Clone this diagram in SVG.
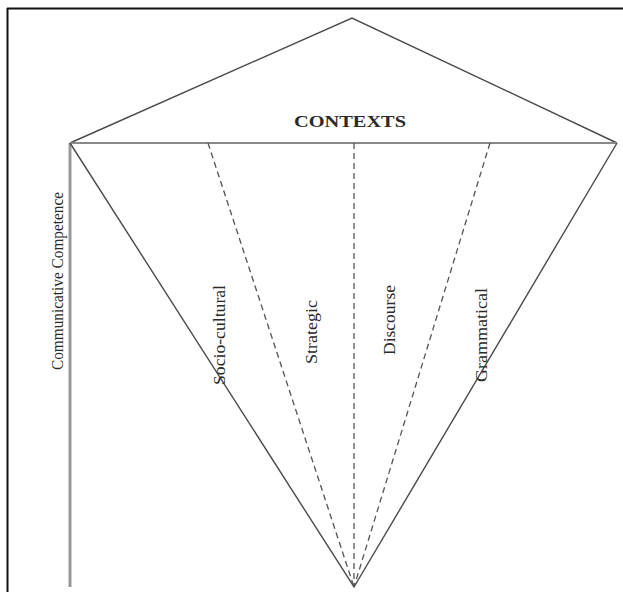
<svg xmlns="http://www.w3.org/2000/svg" width="623" height="592" viewBox="0 0 623 592">
<style>
.solid{stroke:#4a4a4a;stroke-width:1.4;fill:none}
.dash{stroke:#555;stroke-width:1.3;stroke-dasharray:6 4;fill:none}
.lbl{font-family:"Liberation Serif","Times New Roman",serif;font-size:17px;fill:#2a2a2a;text-anchor:middle}
</style>
<rect x="0" y="0" width="623" height="592" fill="#fff"/>
<g id="frame">
<line x1="7.5" y1="8" x2="7.5" y2="592" stroke="#111" stroke-width="2"/>
<line x1="7" y1="8.5" x2="623" y2="8.5" stroke="#111" stroke-width="2"/>
</g>
<g id="connectors">
<polyline class="solid" points="70,143 352,18 617,143"/>
<line x1="70" y1="143" x2="617" y2="143" stroke="#888" stroke-width="2.2"/>
<line x1="70" y1="143" x2="70" y2="587" stroke="#999" stroke-width="3"/>
<polyline class="solid" points="70,143 354,587 617,143"/>
<line class="dash" x1="208" y1="143" x2="354" y2="587"/>
<line class="dash" x1="354" y1="143" x2="354" y2="587"/>
<line class="dash" x1="490" y1="143" x2="354" y2="587"/>
</g>
<g id="contexts"><text class="lbl" x="350" y="127" font-weight="bold" font-size="17" textLength="112" lengthAdjust="spacingAndGlyphs">CONTEXTS</text></g>
<g id="communicative"><text class="lbl" transform="translate(63,281) rotate(-90)" textLength="178" lengthAdjust="spacingAndGlyphs">Communicative Competence</text></g>
<g id="sociocultural"><text class="lbl" transform="translate(225,335) rotate(-90)" textLength="100" lengthAdjust="spacingAndGlyphs">Socio-cultural</text></g>
<g id="strategic"><text class="lbl" transform="translate(317,332) rotate(-90)" textLength="64" lengthAdjust="spacingAndGlyphs">Strategic</text></g>
<g id="discourse"><text class="lbl" transform="translate(395,320) rotate(-90)" textLength="70" lengthAdjust="spacingAndGlyphs">Discourse</text></g>
<g id="grammatical"><text class="lbl" transform="translate(487,335) rotate(-90)" textLength="94" lengthAdjust="spacingAndGlyphs">Grammatical</text></g>
</svg>
